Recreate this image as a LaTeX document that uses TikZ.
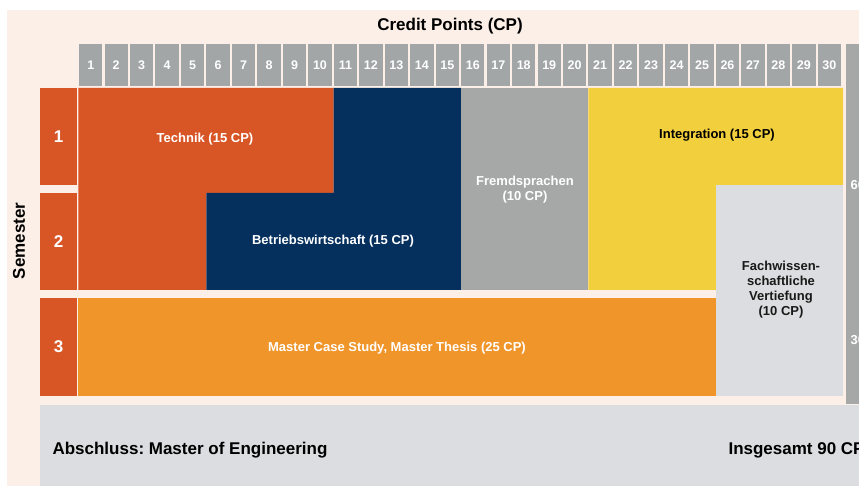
\documentclass[tikz,border=0pt]{standalone}
\usepackage{fontspec}
\setmainfont{Liberation Sans}
\frenchspacing

\definecolor{peach}{HTML}{FCEFE7}
\definecolor{cellgray}{HTML}{A3A6A7}
\definecolor{techred}{HTML}{D85526}
\definecolor{bwblue}{HTML}{05305E}
\definecolor{fsgray}{HTML}{A5A8A7}
\definecolor{intyellow}{HTML}{F2CF3D}
\definecolor{mcorange}{HTML}{F0952A}
\definecolor{fwgray}{HTML}{DCDDE0}

\def\cw{25.47}

\begin{document}
\begin{tikzpicture}[x=1pt,y=-1pt]
	\tikzstyle{cell}=[fill=cellgray,text=white,minimum width=23.4pt,minimum height=42pt,inner sep=0pt,font=\fontsize{12.5}{14}\selectfont\bfseries]
	\tikzstyle{semcell}=[fill=techred,text=white,minimum width=37pt,minimum height=97pt,inner sep=0pt,font=\fontsize{17}{19}\selectfont\bfseries]
	\tikzstyle{lab}=[text=white,align=center,font=\fontsize{13}{15}\selectfont\bfseries]
	\tikzstyle{big}=[font=\fontsize{17}{19}\selectfont\bfseries]

	\clip (0,0) rectangle (859,486);
	\fill[peach] (7,10) rectangle (859,486);

	\node[big] (title) at (450,26) {Credit Points (CP)};
	\foreach \i in {1,...,30}
		\node[cell] (cp\i) at ({79+(\i-0.5)*\cw-1},65) {\i};

	% semester column
	\node[big,rotate=90] (sem) at (19,241) {Semester};
	\node[semcell] (s1) at (58.6,136.5) {1};
	\node[semcell] (s2) at (58.6,241.5) {2};
	\node[semcell,minimum height=98pt] (s3) at (58.6,347) {3};

	% modules
	\fill[techred] (78.3,88) -- (333.7,88) -- (333.7,193) -- (206.4,193) -- (206.4,290) -- (78.3,290) -- cycle;
	\fill[bwblue] (333.7,88) -- (461,88) -- (461,290) -- (206.4,290) -- (206.4,193) -- (333.7,193) -- cycle;
	\fill[fsgray] (461,88) rectangle (588.4,290);
	\fill[intyellow] (588.4,88) -- (843,88) -- (843,185) -- (715.8,185) -- (715.8,290) -- (588.4,290) -- cycle;
	\fill[fwgray] (715.8,185) rectangle (843,396);
	\fill[mcorange] (78.3,298) rectangle (715.8,396);

	\node[lab] (tech) at (205,139) {Technik (15 CP)};
	\node[lab] (bw) at (333,241) {Betriebswirtschaft (15 CP)};
	\node[lab] (fs) at (525,190) {Fremdsprachen\\(10 CP)};
	\node[lab,text=black] (int) at (717,135) {Integration (15 CP)};
	\node[lab,text=black!90] (fw) at (781,290) {Fachwissen-\\schaftliche\\Vertiefung\\(10 CP)};
	\node[lab] (mc) at (397,348) {Master Case Study, Master Thesis (25 CP)};

	% totals
	\fill[fsgray] (846,44) rectangle (870,404);
	\node[lab,anchor=west] (t60) at (847,185) {60};
	\node[lab,anchor=west] (t30) at (847,340) {30};

	\fill[fwgray] (40,405) rectangle (870,486);
	\node[big,anchor=west] (degree) at (49,450) {Abschluss: Master of Engineering};
	\node[big,anchor=west] (total) at (725,450) {Insgesamt 90 CP};
\end{tikzpicture}
\end{document}
